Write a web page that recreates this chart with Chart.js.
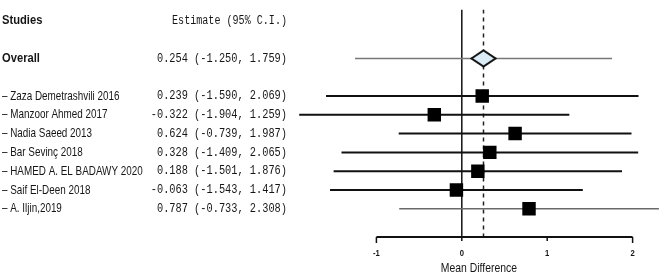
<!DOCTYPE html>
<html>
<head>
<meta charset="utf-8">
<script src="https://cdn.jsdelivr.net/npm/chart.js@4/dist/chart.umd.min.js"></script>
<style>
    body { margin: 0; background: #fff; }
    #wrap { position: relative; width: 672px; height: 277px; }
</style>
</head>
<body>
<div id="wrap"><canvas id="chart"></canvas></div>
<script>
// Study data
const studies = [
    'Zaza Demetrashvili 2016',
    'Manzoor Ahmed 2017',
    'Nadia Saeed 2013',
    'Bar Sevinç 2018',
    'HAMED A. EL BADAWY 2020',
    'Saif El-Deen 2018',
    'A. Iljin,2019'
];
const estimates = [0.239, -0.322, 0.624, 0.328, 0.188, -0.063, 0.787];
const lowerCI = [-1.590, -1.904, -0.739, -1.409, -1.501, -1.543, -0.733];
const upperCI = [2.069, 1.259, 1.987, 2.065, 1.876, 1.417, 2.308];

const overallEstimate = 0.254;
const overallLower = -1.250;
const overallUpper = 1.759;

const xTicks = [-1, 0, 1, 2];

// Row layout: header on row 0, overall on row 2, studies from row 4
const HEADER_ROW = 0;
const OVERALL_ROW = 2;
const FIRST_STUDY_ROW = 4;
const Y_MIN = -0.6;
const Y_MAX = 11.5;

const rowOf = i => FIRST_STUDY_ROW + i;

/**
 * Build the diamond marker for the overall estimate.
 */
function diamondImage() {
    const c = document.createElement('canvas');
    c.width = 27;
    c.height = 19;
    const ctx = c.getContext('2d');
    ctx.beginPath();
    ctx.moveTo(1.5, 9.5);
    ctx.lineTo(13.5, 1.5);
    ctx.lineTo(25.5, 9.5);
    ctx.lineTo(13.5, 17.5);
    ctx.closePath();
    ctx.fillStyle = '#dcedf7';
    ctx.fill();
    ctx.lineWidth = 2;
    ctx.strokeStyle = '#111';
    ctx.stroke();
    return c;
}

const fmt = v => v.toFixed(3);
const ciText = (e, lo, hi) => `${fmt(e)} (${fmt(lo)}, ${fmt(hi)})`;

/**
 * Draw horizontally squeezed text (narrow fonts are not installed).
 */
function narrowText(ctx, text, x, y, align, font, squeeze) {
    ctx.save();
    ctx.font = font;
    ctx.textAlign = align;
    ctx.translate(x, y);
    ctx.scale(squeeze, 1);
    ctx.fillText(text, 0, 0);
    ctx.restore();
}

const SANS = '"Liberation Sans", Arial, sans-serif';
const MONO = '"Liberation Mono", "DejaVu Sans Mono", monospace';

// Left-hand table and bottom axis, placed with the chart scales
const tablePlugin = {
    id: 'forestTable',
    afterDraw(chart) {
        const ctx = chart.ctx;
        const xs = chart.scales.x;
        const ys = chart.scales.y;
        const nameFont = '13px ' + SANS;
        const boldFont = 'bold 13px ' + SANS;
        const monoFont = '12px ' + MONO;
        const nameSq = 0.76;
        const monoSq = 0.86;
        const estRight = 287;

        ctx.save();
        ctx.textBaseline = 'middle';
        ctx.fillStyle = '#161616';

        // Header
        let y = ys.getPixelForValue(HEADER_ROW);
        narrowText(ctx, 'Studies', 2, y, 'left', boldFont, 0.86);
        narrowText(ctx, 'Estimate (95% C.I.)', estRight, y, 'right', monoFont, 0.84);

        // Overall
        y = ys.getPixelForValue(OVERALL_ROW);
        narrowText(ctx, 'Overall', 2, y, 'left', boldFont, 0.86);
        narrowText(ctx, ciText(overallEstimate, overallLower, overallUpper), estRight, y, 'right', monoFont, monoSq);

        // Studies
        studies.forEach((name, i) => {
            const yy = ys.getPixelForValue(rowOf(i));
            narrowText(ctx, '\u2013 ' + name, 2, yy, 'left', nameFont, nameSq);
            narrowText(ctx, ciText(estimates[i], lowerCI[i], upperCI[i]), estRight, yy, 'right', monoFont, monoSq);
        });

        // Bottom axis
        const axisY = chart.chartArea.bottom;
        const x0 = xs.getPixelForValue(xTicks[0]);
        const x1 = xs.getPixelForValue(xTicks[xTicks.length - 1]);
        ctx.strokeStyle = '#111';
        ctx.lineWidth = 2;
        ctx.beginPath();
        ctx.moveTo(x0, axisY);
        ctx.lineTo(x1, axisY);
        ctx.stroke();
        ctx.lineWidth = 1.5;
        xTicks.forEach((t, i) => {
            const px = xs.getPixelForValue(t);
            const len = (i === 0 || i === xTicks.length - 1) ? 6 : 4;
            ctx.beginPath();
            ctx.moveTo(px, axisY);
            ctx.lineTo(px, axisY + len);
            ctx.stroke();
            narrowText(ctx, String(t), px, axisY + 17, 'center', 'bold 9px ' + SANS, 0.85);
        });
        narrowText(ctx, 'Mean Difference', xs.getPixelForValue(0.2), axisY + 31, 'center', '13px ' + SANS, 0.8);
        ctx.restore();
    }
};

const datasets = [];

// Study confidence intervals
studies.forEach((name, i) => {
    const last = i === studies.length - 1;
    datasets.push({
        type: 'line',
        data: [{x: lowerCI[i], y: rowOf(i)}, {x: upperCI[i], y: rowOf(i)}],
        borderColor: last ? '#6a6a6a' : '#111',
        borderWidth: last ? 1.5 : 2,
        pointRadius: 0,
        order: 2
    });
});

// Overall confidence interval
datasets.push({
    type: 'line',
    data: [{x: overallLower, y: OVERALL_ROW}, {x: overallUpper, y: OVERALL_ROW}],
    borderColor: '#777',
    borderWidth: 1.5,
    pointRadius: 0,
    order: 2
});

// No-effect line
datasets.push({
    type: 'line',
    data: [{x: 0, y: Y_MIN}, {x: 0, y: Y_MAX}],
    borderColor: '#111',
    borderWidth: 1.5,
    pointRadius: 0,
    order: 3
});

// Overall estimate line
datasets.push({
    type: 'line',
    data: [{x: overallEstimate, y: Y_MIN}, {x: overallEstimate, y: Y_MAX}],
    borderColor: '#222',
    borderWidth: 1.5,
    borderDash: [4, 4],
    pointRadius: 0,
    order: 3
});

// Study estimates
datasets.push({
    type: 'scatter',
    data: estimates.map((e, i) => ({x: e, y: rowOf(i)})),
    pointStyle: 'rect',
    pointRadius: 9.5,
    backgroundColor: '#000',
    borderColor: '#000',
    borderWidth: 0,
    order: 0
});

// Overall estimate
datasets.push({
    type: 'scatter',
    data: [{x: overallEstimate, y: OVERALL_ROW}],
    pointStyle: diamondImage(),
    order: 0
});

new Chart(document.getElementById('chart'), {
    type: 'scatter',
    data: { datasets: datasets },
    options: {
        responsive: true,
        maintainAspectRatio: false,
        animation: false,
        layout: { padding: { top: 3, bottom: 40, left: 291, right: 2.5 } },
        plugins: { legend: { display: false }, tooltip: { enabled: false } },
        scales: {
            x: { type: 'linear', min: -2, max: 2.35, display: false },
            y: { type: 'linear', min: Y_MIN, max: Y_MAX, reverse: true, display: false }
        }
    },
    plugins: [tablePlugin]
});
</script>
</body>
</html>
